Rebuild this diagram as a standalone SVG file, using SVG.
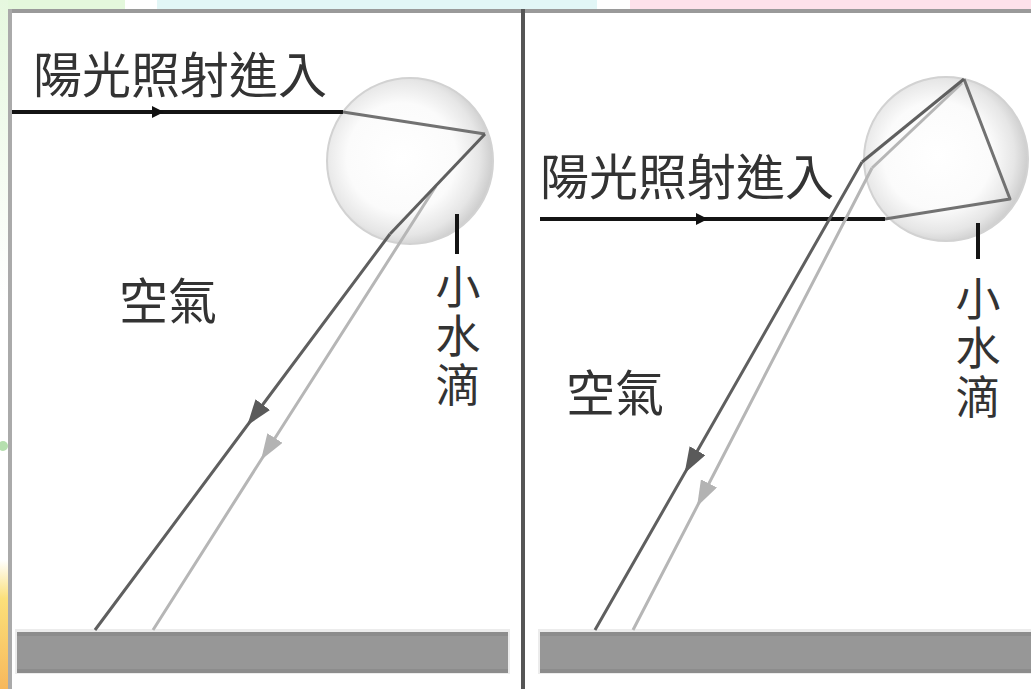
<svg xmlns="http://www.w3.org/2000/svg" width="1031" height="689" viewBox="0 0 1031 689">
  <style>
    .label { font-family: "Noto Sans CJK TC", "Noto Sans CJK SC", sans-serif; font-size: 49px; fill: #333333; }
    .vlabel { font-family: "Noto Sans CJK TC", "Noto Sans CJK SC", sans-serif; font-size: 45px; fill: #333333; writing-mode: vertical-rl; }
    .sun { fill: none; stroke: #141414; stroke-width: 4; }
    .inner { fill: none; stroke: #727272; stroke-width: 3; stroke-linejoin: round; }
    .dark { fill: none; stroke: #5f5f5f; stroke-width: 3; stroke-linejoin: round; }
    .light { fill: none; stroke: #b6b6b6; stroke-width: 3; stroke-linejoin: round; }
    .tick { stroke: #141414; stroke-width: 4; }
    .drop { fill: url(#dropFill); stroke: #d2d2d2; stroke-width: 2; }
  </style>
  <defs>
    <radialGradient id="dropFill" cx="0.45" cy="0.48" r="0.55">
      <stop offset="0" stop-color="#ffffff"/>
      <stop offset="0.6" stop-color="#fbfbfb"/>
      <stop offset="0.85" stop-color="#e6e6e6"/>
      <stop offset="1" stop-color="#cdcdcd"/>
    </radialGradient>
    <linearGradient id="edgeWarm" x1="0" y1="0" x2="0" y2="1">
      <stop offset="0" stop-color="#ffffff"/>
      <stop offset="0.3" stop-color="#fbe07a"/>
      <stop offset="1" stop-color="#f7b85c"/>
    </linearGradient>
    <linearGradient id="edgeGreen" x1="0" y1="0" x2="0" y2="1">
      <stop offset="0" stop-color="#e6f8df"/>
      <stop offset="1" stop-color="#ffffff"/>
    </linearGradient>
    <marker id="sunHead" viewBox="0 0 14 14" refX="7" refY="7" markerWidth="14" markerHeight="14" markerUnits="userSpaceOnUse" orient="auto">
      <path d="M1,1 L13,7 L1,13 z" fill="#111111"/>
    </marker>
    <marker id="darkHead" viewBox="0 0 26 18" refX="13" refY="9" markerWidth="26" markerHeight="18" markerUnits="userSpaceOnUse" orient="auto">
      <path d="M0,0 L26,9 L0,18 z" fill="#5a5a5a"/>
    </marker>
    <marker id="lightHead" viewBox="0 0 26 18" refX="13" refY="9" markerWidth="26" markerHeight="18" markerUnits="userSpaceOnUse" orient="auto">
      <path d="M0,0 L26,9 L0,18 z" fill="#b3b3b3"/>
    </marker>
  </defs>

  <!-- page background and coloured header strip -->
  <rect x="0" y="0" width="1031" height="689" fill="#ffffff"/>
  <g id="header-strip">
    <rect x="0" y="0" width="125" height="10" fill="#e4f8dc"/>
    <rect x="157" y="0" width="440" height="10" fill="#e2f6f6"/>
    <rect x="630" y="0" width="401" height="10" fill="#fde1ea"/>
  </g>
  <g id="left-edge">
    <rect x="0" y="0" width="8" height="300" fill="url(#edgeGreen)"/>
    <circle cx="3" cy="446" r="5" fill="#b5dfae"/>
    <rect x="0" y="560" width="8" height="129" fill="url(#edgeWarm)"/>
  </g>

  <!-- frame: top rule, left rule and panel divider -->
  <g id="frame">
    <rect x="8" y="9" width="1023" height="4" fill="#9a9a9a"/>
    <rect x="8" y="9" width="4" height="680" fill="#aaaaaa"/>
    <rect x="521" y="9" width="4" height="680" fill="#555555"/>
  </g>

  <!-- ground bars -->
  <g id="ground-left">
    <rect x="15" y="629" width="495" height="45" fill="#ececec"/>
    <rect x="17" y="632" width="491" height="41" fill="#979797"/>
    <rect x="17" y="632" width="491" height="4" fill="#8c8c8c"/>
    <rect x="17" y="669" width="491" height="4" fill="#8c8c8c"/>
  </g>
  <g id="ground-right">
    <rect x="538" y="629" width="493" height="45" fill="#ececec"/>
    <rect x="540" y="632" width="491" height="41" fill="#979797"/>
    <rect x="540" y="632" width="491" height="4" fill="#8c8c8c"/>
    <rect x="540" y="669" width="491" height="4" fill="#8c8c8c"/>
  </g>

  <!-- water droplets -->
  <g id="droplet-left">
    <circle class="drop" cx="410" cy="161" r="83"/>
  </g>
  <g id="droplet-right">
    <circle class="drop" cx="946" cy="159" r="82"/>
  </g>

  <!-- light paths: each arrowed path has exactly one interior vertex -->
  <g id="connectors">
    <!-- left panel: single internal reflection -->
    <path class="sun" d="M12,112 L158,112 L343,112" marker-mid="url(#sunHead)"/>
    <path class="inner" d="M343,112 L485,134"/>
    <path class="light" d="M436,186 L268,449 L153,630" marker-mid="url(#lightHead)"/>
    <path class="dark" d="M485,134 L390,234"/>
    <path class="dark" d="M390,234 L255,415 L95,630" marker-mid="url(#darkHead)"/>

    <!-- right panel: double internal reflection -->
    <path class="sun" d="M540,219 L702,219 L885,219" marker-mid="url(#sunHead)"/>
    <path class="inner" d="M885,219 L1010,199 L964,79"/>
    <path class="light" d="M962,83 L872,168"/>
    <path class="light" d="M872,168 L703,495 L633,630" marker-mid="url(#lightHead)"/>
    <path class="dark" d="M964,79 L862,162"/>
    <path class="dark" d="M862,162 L691,462 L595,630" marker-mid="url(#darkHead)"/>
  </g>

  <!-- labels -->
  <g id="label-sun-left">
    <text class="label" x="33" y="93">陽光照射進入</text>
  </g>
  <g id="label-sun-right">
    <text class="label" x="540" y="195">陽光照射進入</text>
  </g>
  <g id="label-air-left">
    <text class="label" x="119" y="319">空氣</text>
  </g>
  <g id="label-air-right">
    <text class="label" x="566" y="411">空氣</text>
  </g>
  <!-- vertical labels, one glyph per text on a 49px pitch -->
  <g id="label-drop-left">
    <line class="tick" x1="457" y1="214" x2="457" y2="254"/>
    <text class="vlabel" x="458" y="264">小</text>
    <text class="vlabel" x="458" y="313">水</text>
    <text class="vlabel" x="458" y="362">滴</text>
  </g>
  <g id="label-drop-right">
    <line class="tick" x1="978" y1="223" x2="978" y2="259"/>
    <text class="vlabel" x="978" y="276">小</text>
    <text class="vlabel" x="978" y="325">水</text>
    <text class="vlabel" x="978" y="374">滴</text>
  </g>
</svg>
